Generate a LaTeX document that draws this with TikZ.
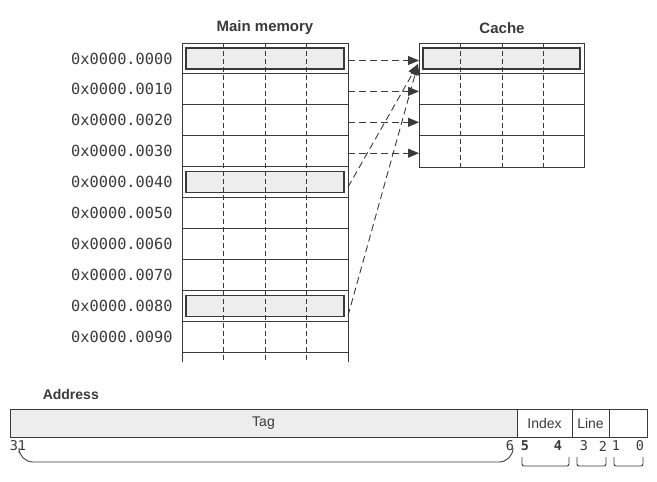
\documentclass[tikz,border=0pt]{standalone}
\usepackage{fontspec}
\setmainfont{Liberation Sans}
\setmonofont{DejaVu Sans Mono}
\usetikzlibrary{arrows.meta}
\definecolor{ink}{HTML}{3A3A3A}
\definecolor{shade}{HTML}{EDEDED}
\begin{document}
\begin{tikzpicture}[x=1pt,y=-1pt,line width=0.9pt,
  grid/.style={draw=ink},
  gridsep/.style={draw=ink,dash pattern=on 5pt off 3pt},
  hlbox/.style={draw=ink,fill=shade,line width=1.3pt},
  link/.style={draw=ink,dash pattern=on 7pt off 4pt,-{Triangle[length=11pt,width=9pt]}},
  addr/.style={font=\ttfamily\fontsize{15.3}{16}\selectfont,text=ink,anchor=east,inner sep=0pt},
  title/.style={font=\bfseries\fontsize{15}{16}\selectfont,text=ink},
  field/.style={draw=ink,anchor=north west,minimum height=28pt,inner sep=0pt,outer sep=0pt,
    font=\fontsize{14}{15}\selectfont,text=ink},
  bit/.style={font=\ttfamily\fontsize{13.5}{14}\selectfont,text=ink,inner sep=0pt}]
\useasboundingbox (0,0) rectangle (657,482);

% main memory
\node[title] (mainlbl) at (265,28) {Main memory};
\foreach \r in {0,4,8}
  \draw[hlbox] (186,{48+30.9*\r}) rectangle (344,{69+30.9*\r});
\draw[grid] (182,362) -- (182,43) -- (348,43) -- (348,362);
\foreach \r in {1,...,10}
  \draw[grid] (182,{43+30.9*\r}) -- (348,{43+30.9*\r});
\foreach \x in {223.5,265,306.5}
  \draw[gridsep] (\x,43) -- (\x,362);
\foreach \r in {0,...,9} {
  \node[addr] (a\r) at (173,{58.5+30.9*\r}) {0x0000.00\r0};
  \coordinate (m\r) at (348,{60.5+30.9*\r});
}

% cache
\node[title] (cachelbl) at (502,28) {Cache};
\draw[hlbox] (423,48) rectangle (580,69);
\draw[grid] (419,43) rectangle (584,167);
\foreach \r in {1,2,3}
  \draw[grid] (419,{43+30.9*\r}) -- (584,{43+30.9*\r});
\foreach \x in {460.5,502,543}
  \draw[gridsep] (\x,43) -- (\x,167);
\foreach \r in {0,...,3}
  \coordinate (c\r) at (419,{60.5+30.9*\r});
\coordinate (chit) at (418,64);

\foreach \r in {0,...,3}
  \draw[link] (m\r) -- (c\r);
\draw[link] ([yshift=-3pt]m4) -- (chit);
\draw[link] ([yshift=-8pt]m8) -- (chit);

% address
\node[title,font=\bfseries\fontsize{14}{15}\selectfont,anchor=west] (adrlbl) at (39,394) {Address};
\node[field,fill=shade,minimum width=507pt] (tag) at (10,409) {Tag};
\node[field,minimum width=55pt] (index) at (tag.north east) {Index};
\node[field,minimum width=37pt] (line) at (index.north east) {Line};
\node[field,minimum width=38pt] (offs) at (line.north east) {};

\node[bit] (b31) at (18,446) {31};
\node[bit] (b6) at (510,446) {6};
\node[bit,font=\ttfamily\bfseries\fontsize{13.5}{14}\selectfont] (b5) at (525,446) {5};
\node[bit,font=\ttfamily\bfseries\fontsize{13.5}{14}\selectfont] (b4) at (558,446) {4};
\node[bit] (b3) at (584,446) {3};
\node[bit] (b2) at (603,446) {2};
\node[bit] (b1) at (616,446) {1};
\node[bit] (b0) at (640,446) {0};

\draw[grid,line width=0.9pt,rounded corners=14pt] (19,453) -- (19,462) -- (513,462) -- (513,449);
\foreach \a/\b in {522/569,577/606,614/643}
  \draw[grid,line width=0.9pt,rounded corners=2pt] (\a,457) -- (\a,466) -- (\b,466) -- (\b,457);
\end{tikzpicture}
\end{document}
